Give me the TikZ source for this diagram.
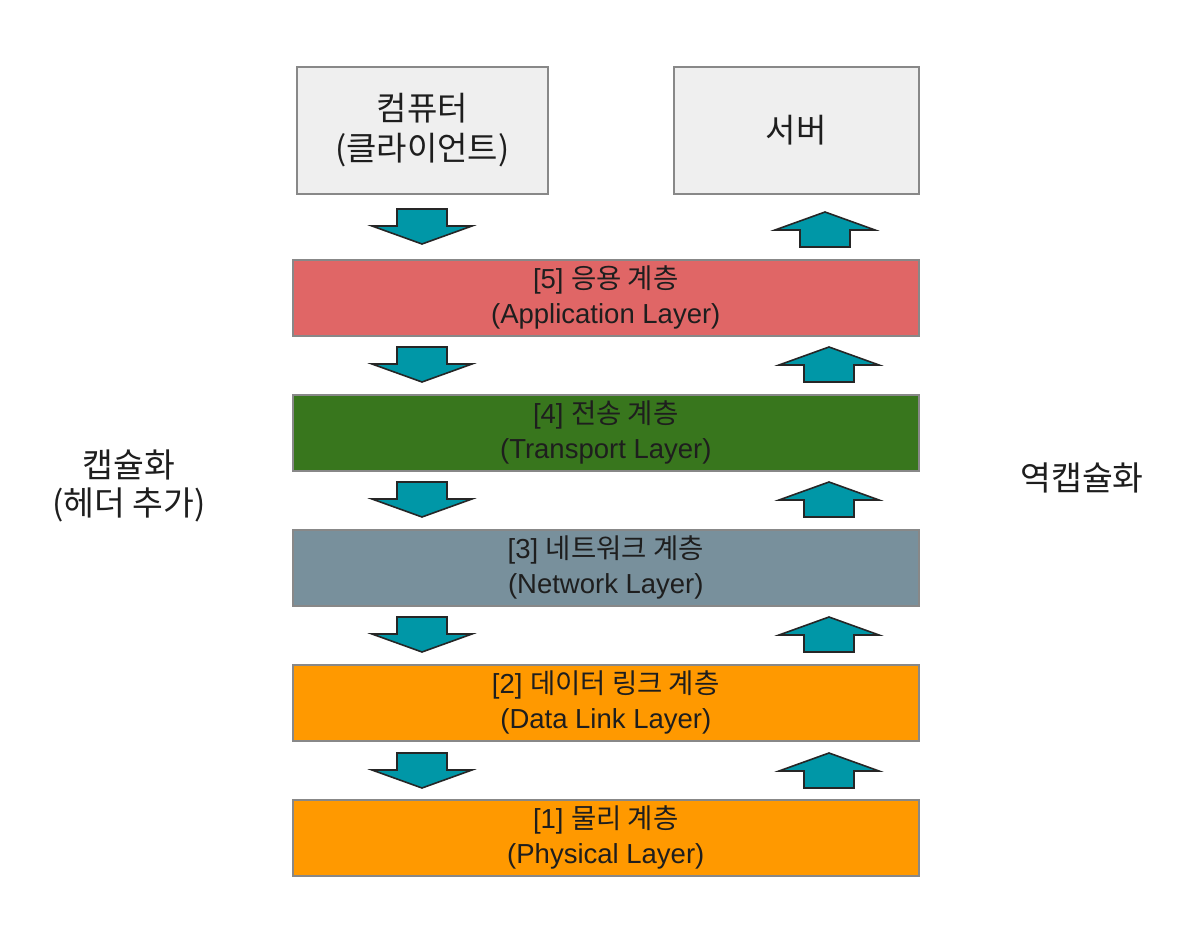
\documentclass[tikz,border=0pt]{standalone}
\usepackage{fontspec}
\setmainfont{Liberation Sans}
\newfontfamily\kr{Noto Sans CJK KR}
\definecolor{boxgray}{HTML}{EFEFEF}
\definecolor{edgegray}{HTML}{888888}
\definecolor{layerred}{HTML}{E06666}
\definecolor{layergreen}{HTML}{38761D}
\definecolor{layerslate}{HTML}{78909C}
\definecolor{layerorange}{HTML}{FF9900}
\definecolor{arrowteal}{HTML}{0097A7}
\definecolor{txt}{HTML}{1E1E1E}
\tikzset{
  hostbox/.style={draw=edgegray, line width=1.6pt, fill=boxgray, anchor=north west,
    minimum height=127pt, align=center, text=txt, inner sep=0pt,
    font=\fontsize{33}{40}\selectfont},
  layerbox/.style={draw=edgegray, line width=1.6pt, anchor=north west,
    minimum width=626pt, minimum height=76pt, align=center, text=txt, inner sep=0pt,
    font=\fontsize{27.5}{35}\selectfont},
  sidelabel/.style={align=center, text=txt, font=\fontsize{33.5}{38}\selectfont},
  blockarrow/.style={fill=arrowteal, draw=black!85, line width=1.6pt, line join=miter}
}
\begin{document}
\begin{tikzpicture}[x=1pt,y=-1pt]
\useasboundingbox[fill=white] (0,0) rectangle (1186,928);

\node[hostbox, minimum width=251pt] (client) at (296,66) {{\kr 컴퓨터}\\{\kr (클라이언트)}};
\node[hostbox, minimum width=245pt] (server) at (673,66) {\kr 서버};

\node[layerbox, fill=layerred] (l5) at (292,259) {[5] {\kr 응용 계층}\\(Application Layer)};
\node[layerbox, fill=layergreen] (l4) at (292,394) {[4] {\kr 전송 계층}\\(Transport Layer)};
\node[layerbox, fill=layerslate] (l3) at (292,529) {[3] {\kr 네트워크 계층}\\(Network Layer)};
\node[layerbox, fill=layerorange] (l2) at (292,664) {[2] {\kr 데이터 링크 계층}\\(Data Link Layer)};
\node[layerbox, fill=layerorange] (l1) at (292,799) {[1] {\kr 물리 계층}\\(Physical Layer)};

\node[sidelabel] (encap) at (129,486) {\kr 캡슐화\\\kr (헤더 추가)};
\node[sidelabel] (decap) at (1082,478) {\kr 역캡슐화};

% down arrows (encapsulation side)
\foreach \t in {209,347,482,617,753}{
  \draw[blockarrow, shift={(422,\t)}] (-25,0) -- (25,0) -- (25,17) -- (50,17) -- (0,35) -- (-50,17) -- (-25,17) -- cycle;
}
% up arrows (decapsulation side)
\foreach \cx/\b in {825/247,829/382,829/517,829/652,829/788}{
  \draw[blockarrow, shift={(\cx,\b)}] (-25,0) -- (25,0) -- (25,-17) -- (50,-17) -- (0,-35) -- (-50,-17) -- (-25,-17) -- cycle;
}
\end{tikzpicture}
\end{document}
